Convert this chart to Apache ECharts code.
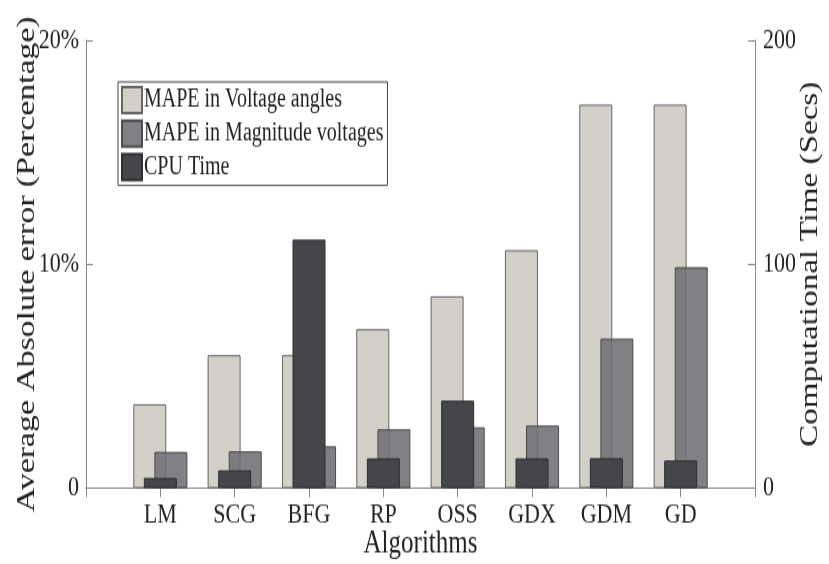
<!DOCTYPE html>
<html>
<head>
<meta charset="utf-8">
<script src="https://cdn.jsdelivr.net/npm/echarts@6/dist/echarts.min.js"></script>
<style>
  html, body { margin: 0; padding: 0; background: #fff; overflow: hidden; }
  #frame { width: 829px; height: 564px; position: absolute; left: 0; top: 0; overflow: hidden; }
  /* figure is drawn at a shorter height and stretched vertically, giving tall serif lettering */
  #chart { position: absolute; left: 0; top: 0; width: 829px; height: 434px; transform: scaleY(1.3); transform-origin: 0 0; }
</style>
</head>
<body>
<div id="frame"><div id="chart"></div></div>
<script>
// Training algorithms compared
var categories = ['LM', 'SCG', 'BFG', 'RP', 'OSS', 'GDX', 'GDM', 'GD'];
// MAPE of voltage angles (%)
var angleMape = [3.75, 5.94, 5.94, 7.1, 8.57, 10.63, 17.13, 17.13];
// MAPE of voltage magnitudes (%)
var magnitudeMape = [1.62, 1.65, 1.87, 2.63, 2.72, 2.8, 6.68, 9.87];
// CPU time (s)
var cpuTime = [4.6, 8, 111, 13.3, 39.1, 13.3, 13.4, 12.4];
// axis ticks
var errorTicks = [0, 10, 20];
var timeTicks = [0, 100, 200];

// pad with an empty slot on each side so the algorithms sit one step in from the frame
function pad(arr, fill) { return [fill].concat(arr, [fill]); }
var axisCats = pad(categories, '');

var serif = "'Liberation Serif', 'Times New Roman', serif";
var textColor = '#222';
var frameColor = '#888';

var chart = echarts.init(document.getElementById('chart'), null, { renderer: 'canvas' });

chart.setOption({
  animation: false,
  backgroundColor: '#fff',
  textStyle: { fontFamily: serif },
  grid: { left: 86, right: 74, top: 31, bottom: 58.5, containLabel: false, outerBoundsMode: 'none' },
  legend: {
    orient: 'vertical',
    left: 118,
    top: 63,
    data: ['MAPE in Voltage angles', 'MAPE in Magnitude voltages', 'CPU Time'],
    itemWidth: 20,
    itemHeight: 20,
    itemGap: 3.8,
    icon: 'rect',
    padding: [3, 4, 3, 3],
    borderColor: '#444',
    borderWidth: 1,
    backgroundColor: '#fff',
    textStyle: { fontFamily: serif, fontSize: 20, color: textColor, padding: [0, 0, 0, -3] }
  },
  xAxis: [
    {
      type: 'category',
      position: 'bottom',
      data: axisCats,
      boundaryGap: false,
      name: 'Algorithms',
      nameLocation: 'middle',
      nameGap: 30,
      nameMoveOverlap: false,
      nameTextStyle: { fontFamily: serif, fontSize: 25, color: textColor },
      axisLine: { show: true, lineStyle: { color: frameColor, width: 1 } },
      axisTick: { show: true, inside: true, length: 7, lineStyle: { color: frameColor } },
      axisLabel: { show: true, interval: 0, margin: 10, fontFamily: serif, fontSize: 22, color: textColor },
      splitLine: { show: false }
    },
    {
      type: 'category',
      position: 'top',
      data: axisCats,
      boundaryGap: false,
      axisLine: { show: true, lineStyle: { color: frameColor, width: 1 } },
      axisTick: { show: true, inside: true, length: 7, lineStyle: { color: frameColor } },
      axisLabel: { show: false },
      splitLine: { show: false }
    }
  ],
  yAxis: [
    {
      type: 'value',
      position: 'left',
      min: errorTicks[0],
      max: errorTicks[errorTicks.length - 1],
      interval: errorTicks[1] - errorTicks[0],
      name: 'Average Absolute error (Percentage)',
      nameLocation: 'middle',
      nameRotate: 90,
      nameGap: 46,
      nameMoveOverlap: false,
      nameTextStyle: { fontFamily: serif, fontSize: 26, color: textColor },
      axisLine: { show: true, lineStyle: { color: frameColor, width: 1 } },
      axisTick: { show: true, inside: true, length: 7, lineStyle: { color: frameColor } },
      axisLabel: {
        margin: 7, fontFamily: serif, fontSize: 22, color: textColor,
        formatter: function (v) { return v === 0 ? '0' : v + '%'; }
      },
      splitLine: { show: false }
    },
    {
      type: 'value',
      position: 'right',
      min: timeTicks[0],
      max: timeTicks[timeTicks.length - 1],
      interval: timeTicks[1] - timeTicks[0],
      name: 'Computational Time (Secs)',
      nameLocation: 'middle',
      nameRotate: 90,
      nameGap: 42,
      nameMoveOverlap: false,
      nameTextStyle: { fontFamily: serif, fontSize: 25.5, color: textColor },
      axisLine: { show: true, lineStyle: { color: frameColor, width: 1 } },
      axisTick: { show: true, inside: true, length: 7, lineStyle: { color: frameColor } },
      axisLabel: { margin: 8, fontFamily: serif, fontSize: 22, color: textColor },
      splitLine: { show: false }
    }
  ],
  series: [
    {
      name: 'MAPE in Voltage angles',
      type: 'bar',
      xAxisIndex: 0,
      yAxisIndex: 0,
      data: pad(angleMape, null),
      barWidth: 33,
      barGap: '-68%',
      z: 2,
      itemStyle: { color: '#d3d0ca', borderColor: '#666', borderWidth: 1 }
    },
    {
      name: 'CPU Time',
      type: 'bar',
      xAxisIndex: 0,
      yAxisIndex: 1,
      data: pad(cpuTime, null),
      barWidth: 33,
      barGap: '-68%',
      z: 4,
      itemStyle: { color: '#454649', borderColor: '#2e2e30', borderWidth: 1 }
    },
    {
      name: 'MAPE in Magnitude voltages',
      type: 'bar',
      xAxisIndex: 0,
      yAxisIndex: 0,
      data: pad(magnitudeMape, null),
      barWidth: 33,
      barGap: '-68%',
      z: 3,
      itemStyle: { color: '#6f7074', borderColor: '#3d3d40', borderWidth: 1, opacity: 0.88 }
    }
  ]
});
</script>
</body>
</html>
